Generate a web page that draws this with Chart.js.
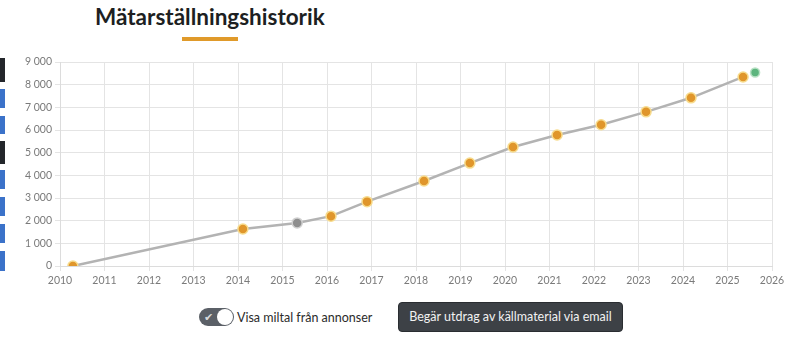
<!DOCTYPE html>
<html>
<head>
<meta charset="utf-8">
<script src="https://cdn.jsdelivr.net/npm/chart.js@4"></script>
<style>
  body { margin: 0; background: #fff; width: 800px; height: 351px; overflow: hidden; position: relative; font-family: Lato, "Open Sans", sans-serif; }
  #titel { position: absolute; left: 95px; top: 3px; font-size: 22.5px; font-weight: 700; color: #1d1f22; }
  #streck { position: absolute; left: 182px; top: 37px; width: 56px; height: 4px; background: #e09a2a; }
  .flik { position: absolute; left: 0; width: 5px; background: #3b72c9; }
  .flik.mork { background: #23262b; }
  #graf { position: absolute; left: 0; top: 50px; }
  #toggle { position: absolute; left: 199px; top: 308px; width: 35px; height: 18px; border-radius: 9px; background: #5b6067; }
  #toggle .knapp { position: absolute; right: 1px; top: 1px; width: 16px; height: 16px; border-radius: 50%; background: #fff; }
  #toggle .bock { position: absolute; left: 5px; top: 2px; font-size: 11px; color: #d8dadc; }
  #visa { position: absolute; left: 237px; top: 310px; font-size: 12.5px; color: #2b2b2b; }
  #knapp { position: absolute; left: 398px; top: 302px; width: 225px; height: 30px; border-radius: 4px; background: #3d4146; border: 1px solid #2a2d31; box-sizing: border-box; color: #f2f2f2; font-size: 12.5px; line-height: 28px; text-align: center; }
</style>
</head>
<body>
<div id="titel">Mätarställningshistorik</div>
<div id="streck"></div>

<div class="flik mork" style="top:58px;height:24px"></div>
<div class="flik" style="top:89px;height:19px"></div>
<div class="flik" style="top:116px;height:18px"></div>
<div class="flik mork" style="top:141px;height:23px"></div>
<div class="flik" style="top:170px;height:19px"></div>
<div class="flik" style="top:197px;height:19px"></div>
<div class="flik" style="top:224px;height:19px"></div>
<div class="flik" style="top:251px;height:20px"></div>

<canvas id="graf" width="790" height="245"></canvas>

<div id="toggle"><span class="bock">&#10004;</span><span class="knapp"></span></div>
<div id="visa">Visa miltal från annonser</div>
<div id="knapp">Begär utdrag av källmaterial via email</div>

<script>
// avläsningar (årtal som decimaltal)
const ar = [2010.29, 2014.11, 2015.33, 2016.09, 2016.9, 2018.18, 2019.21, 2020.18, 2021.17, 2022.16, 2023.17, 2024.18, 2025.35];
const miltal = [0, 1630, 1900, 2200, 2840, 3750, 4540, 5250, 5780, 6230, 6800, 7420, 8340];
const kalla = ["besiktning", "besiktning", "annons", "besiktning", "besiktning", "besiktning", "besiktning", "besiktning", "besiktning", "besiktning", "besiktning", "besiktning", "besiktning"];

// senaste uppgift (grön)
const senasteAr = [2025.62];
const senasteMiltal = [8540];

const yTicks = [0, 1000, 2000, 3000, 4000, 5000, 6000, 7000, 8000, 9000];

const orange = "#e0962b";
const fargFyll = kalla.map(k => k === "annons" ? "#8e8e8e" : orange);
const fargKant = kalla.map(k => k === "annons" ? "#d0d0d0" : "#f7dc8e");

const ctx = document.getElementById("graf").getContext("2d");
new Chart(ctx, {
  type: "scatter",
  data: {
    datasets: [
      {
        data: ar.map((x, i) => ({ x: x, y: miltal[i] })),
        showLine: true,
        borderColor: "#b3b3b3",
        borderWidth: 2.5,
        pointBackgroundColor: fargFyll,
        pointBorderColor: fargKant,
        pointBorderWidth: 1.5,
        pointRadius: 5
      },
      {
        data: senasteAr.map((x, i) => ({ x: x, y: senasteMiltal[i] })),
        showLine: false,
        pointBackgroundColor: "#5db57e",
        pointBorderColor: "#b9e2c5",
        pointBorderWidth: 1.5,
        pointRadius: 4.5
      }
    ]
  },
  options: {
    responsive: false,
    animation: false,
    layout: { padding: { top: 12, right: 18, left: 0, bottom: 0 } },
    plugins: {
      legend: { display: false },
      tooltip: { enabled: false }
    },
    scales: {
      x: {
        type: "linear",
        min: 2010,
        max: 2026,
        afterFit: s => { s.height = 29; },
        grid: { color: "#e4e4e4", tickLength: 5 },
        border: { color: "#dcdcdc" },
        ticks: {
          stepSize: 1,
          padding: 3,
          color: "#7a7a7a",
          font: { family: "Lato", size: 10.5 },
          callback: v => String(v)
        }
      },
      y: {
        min: 0,
        max: 9000,
        afterFit: s => { s.width = 60; },
        afterBuildTicks: s => { s.ticks = yTicks.map(v => ({ value: v })); },
        grid: { color: "#e4e4e4", tickLength: 5 },
        border: { color: "#dcdcdc" },
        ticks: {
          padding: 3,
          color: "#7a7a7a",
          font: { family: "Lato", size: 10.5 },
          callback: v => v.toLocaleString("sv-SE").replace(/\s/g, " ")
        }
      }
    }
  }
});
</script>
</body>
</html>
